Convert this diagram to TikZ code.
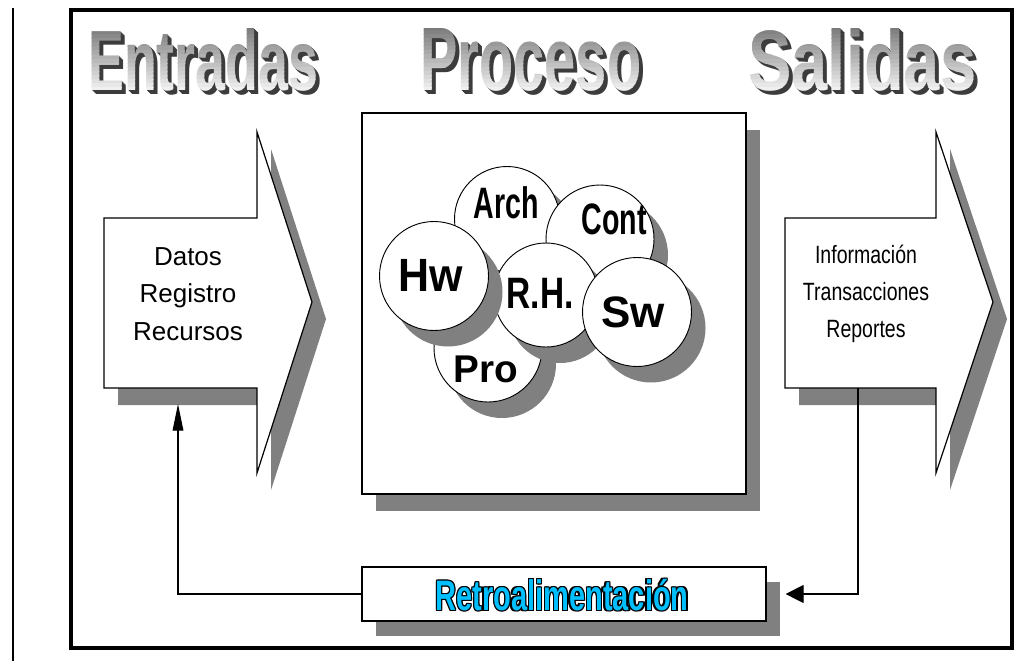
\documentclass[tikz,border=0pt]{standalone}
\usepackage{fontspec}
\setmainfont{Liberation Sans}
\usetikzlibrary{arrows.meta,calc}

\definecolor{shadowgray}{HTML}{808080}
\definecolor{titleshadow}{HTML}{3C3C3C}
\definecolor{retrocyan}{RGB}{0,191,255}

\tikzset{
  outline/.style={draw=black, line width=0.9pt, fill=white},
  bubble/.style={circle, draw=black, fill=white, line width=0.7pt, inner sep=0pt},
  bubbletext/.style={inner sep=0pt},
  titletext/.style={anchor=base west, inner sep=0pt, font=\bfseries},
  listtext/.style={align=center, inner sep=0pt, font=\fontsize{19.5pt}{28pt}\selectfont},
  retrotext/.style={inner sep=0pt, font=\bfseries\fontsize{32pt}{32pt}\selectfont},
  feedback/.style={line width=0.9pt},
}

% circle with its drop shadow: name, x, y, diameter (px units)
\newcommand\bubble[4]{%
  \fill[shadowgray] ($(#2,#3)+(14,16)$) circle[radius=#4/2];
  \node[bubble, minimum size=#4*0.75pt] (#1) at (#2,#3) {};
}

% extruded title word with a vertical grey gradient:
% name, x, baseline y, width (pt), height (pt), height (px), text
\newcommand\titleword[7]{%
  \foreach \k in {4,3,2,1} {
    \node[titletext, text=titleshadow] (#1-s\k) at (#2+\k,#3+\k) {\resizebox{#4}{#5}{#7}};
  }
  \foreach \i in {0,...,15} {
    \pgfmathsetmacro\greylevel{52-46*\i/15}
    \pgfmathsetmacro\bandtop{#3-#6-2+\i*(#6+4)/16}
    \pgfmathsetmacro\bandbot{#3-#6-2+(\i+1)*(#6+4)/16}
    \begin{scope}
      \clip (#2-3,\bandtop) rectangle (#2+240,\bandbot);
      \node[titletext, text=black!\greylevel] (#1-g\i) at (#2,#3) {\resizebox{#4}{#5}{#7}};
    \end{scope}
  }
}

% input and output block arrows
\newcommand\inshape[1]{\path[#1] (104,218) -- (257,218) -- (257,132) -- (312,302) -- (257,473) -- (257,388) -- (104,388) -- cycle;}
\newcommand\outshape[1]{\path[#1] (785,218) -- (936,218) -- (936,132) -- (993,302) -- (936,473) -- (936,388) -- (785,388) -- cycle;}

\begin{document}
\begin{tikzpicture}[x=0.75pt, y=-0.75pt]
  \useasboundingbox (0,0) rectangle (1019,661);
  \fill[white] (0,0) rectangle (1019,661);

  % page rule and frame
  \draw[line width=1pt] (13,8) -- (13,661);
  \draw[line width=2.4pt] (71,10) rectangle (1012,648);

  % headings
  \titleword{t-in}{88}{90}{172.5pt}{46.5pt}{62}{Entradas}
  \titleword{t-proc}{420}{90}{165.75pt}{46.5pt}{62}{Proceso}
  \titleword{t-out}{748}{90}{171pt}{46.5pt}{62}{Salidas}

  % input arrow
  \inshape{fill=shadowgray, shift={(14,17)}}
  \inshape{outline}
  \node[listtext] (in-text) at (188,294) {Datos\\Registro\\Recursos};
  \coordinate (in-foot) at (178,404);

  % output arrow
  \outshape{fill=shadowgray, shift={(14,17)}}
  \outshape{outline}
  \node[listtext, font=\fontsize{18.75pt}{28pt}\selectfont] (out-text) at (866,294)
    {\scalebox{0.78}[1]{Información}\\\scalebox{0.78}[1]{Transacciones}\\\scalebox{0.78}[1]{Reportes}};
  \coordinate (out-foot) at (858,388);

  % process block
  \fill[shadowgray] (376,130) rectangle (760,511);
  \node[outline, minimum width=288pt, minimum height=285.75pt, inner sep=0pt] (proc) at (554,303.5) {};

  % resources inside the process
  \bubble{pro}{488}{348}{108}
  \bubble{arch}{507}{219}{105}
  \bubble{cont}{600}{239}{108}
  \bubble{rh}{546}{295}{104}
  \bubble{hw}{434}{276}{109}
  \bubble{sw}{637}{312}{109}

  \node[bubbletext, font=\bfseries\fontsize{29pt}{29pt}\selectfont] (pro-l) at (486,369) {Pro};
  \node[bubbletext, font=\bfseries\fontsize{33pt}{33pt}\selectfont] (arch-l) at (506,203) {\scalebox{0.65}[1]{Arch}};
  \node[bubbletext, font=\bfseries\fontsize{33pt}{33pt}\selectfont] (cont-l) at (614,219) {\scalebox{0.65}[1]{Cont}};
  \node[bubbletext, font=\bfseries\fontsize{33pt}{33pt}\selectfont] (rh-l) at (540,293) {\scalebox{0.76}[1]{R.H.}};
  \node[bubbletext, font=\bfseries\fontsize{35pt}{35pt}\selectfont] (hw-l) at (431,275) {\scalebox{0.92}[1]{Hw}};
  \node[bubbletext, font=\bfseries\fontsize{33pt}{33pt}\selectfont] (sw-l) at (633,312) {Sw};

  % feedback block
  \fill[shadowgray] (376,582) rectangle (780,636);
  \node[outline, minimum width=303pt, minimum height=40.5pt, inner sep=0pt] (retro) at (564,594) {};
  \foreach \dx/\dy in {-1/0,1/0,0/-1,0/1,-1/-1,1/1,-1/1,1/-1} {
    \node[retrotext, text=black] (retro-edge) at ($(562,595)+(1.3*\dx,1.3*\dy)$) {\scalebox{0.68}[1]{Retroalimentación}};
  }
  \node[retrotext, text=retrocyan] (retro-label) at (562,595) {\scalebox{0.68}[1]{Retroalimentación}};

  % feedback loop
  \draw[feedback, -{Triangle[length=13.5pt,width=13.5pt]}] (out-foot) |- ($(retro.east)+(19,0)$);
  \draw[feedback, -{Triangle[length=20pt,width=8pt]}] (retro.west) -| (in-foot);
\end{tikzpicture}
\end{document}
